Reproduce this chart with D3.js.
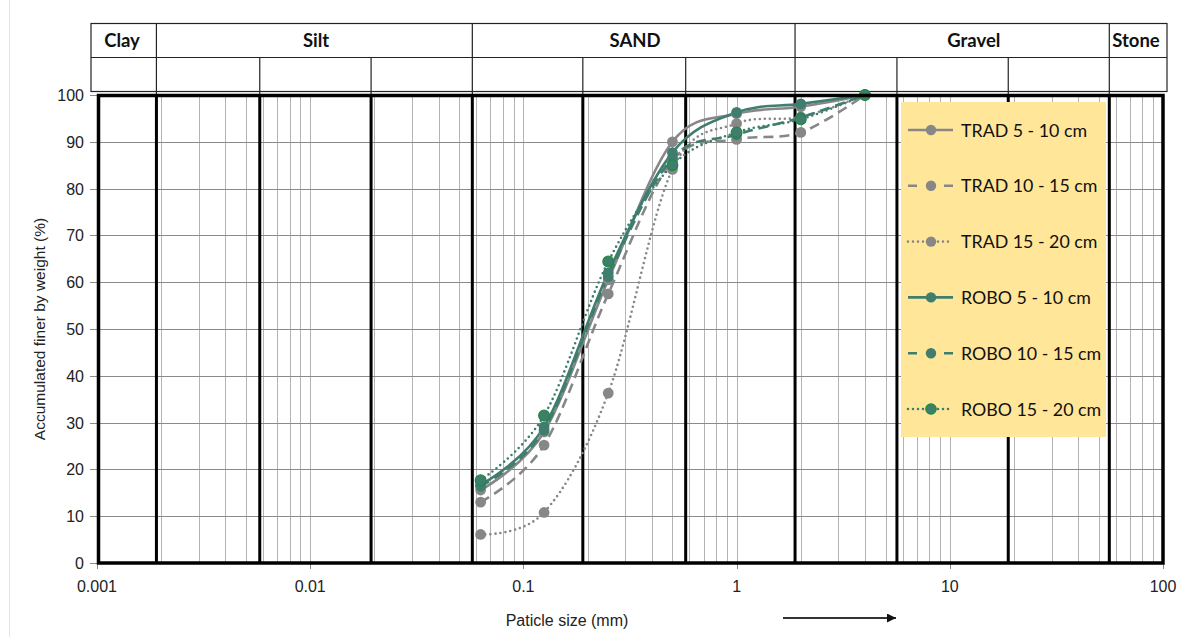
<!DOCTYPE html>
<html><head><meta charset="utf-8">
<script src="https://cdn.jsdelivr.net/npm/d3@7"></script>
<style>body{margin:0;background:#fff}svg{display:block}</style>
</head><body>
<svg id="chart" width="1203" height="637"></svg>
<script>
// ---------- data ----------
const sieveSizes = [0.063, 0.125, 0.25, 0.5, 1, 2, 4];
const seriesNames = ["TRAD 5 - 10 cm","TRAD 10 - 15 cm","TRAD 15 - 20 cm","ROBO 5 - 10 cm","ROBO 10 - 15 cm","ROBO 15 - 20 cm"];
const trad5to10  = [15.6, 28.0, 60.5, 90.0, 96.0, 97.5, 100];
const trad10to15 = [13.0, 25.2, 57.5, 86.0, 90.5, 92.0, 100];
const trad15to20 = [6.1, 10.8, 36.3, 84.1, 93.9, 95.3, 100];
const robo5to10  = [16.7, 29.1, 62.0, 87.7, 96.3, 98.1, 100];
const robo10to15 = [16.4, 28.4, 61.2, 86.5, 91.5, 95.2, 100];
const robo15to20 = [17.7, 31.5, 64.4, 85.0, 92.0, 94.8, 100];
const yTickValues = [0,10,20,30,40,50,60,70,80,90,100];
const xTickValues = [0.001, 0.01, 0.1, 1, 10, 100];
const xTickLabels = ["0.001","0.01","0.1","1","10","100"];
const classNames = ["Clay","Silt","SAND","Gravel","Stone"];
const classLabelAt = [0.00131, 0.01065, 0.334, 12.97, 74.7];
const classBounds = [0.0019, 0.0576, 1.88, 56];
const subBounds = [0.0058, 0.0193, 0.19, 0.577, 5.65, 18.8];

// ---------- styles ----------
const GRAY = "#878787", TEAL = "#3f7e6e";
const styles = [
  {c: GRAY, dash: null}, {c: GRAY, dash: "10,6"}, {c: GRAY, dash: "0,5"},
  {c: TEAL, dash: null}, {c: TEAL, dash: "10,6"}, {c: TEAL, dash: "0,5", outline: "#1f8a3c"}
];
const allSeries = [trad5to10, trad10to15, trad15to20, robo5to10, robo10to15, robo15to20];

const svg = d3.select("#chart");
const x = d3.scaleLog().domain([0.001, 100]).range([97, 1163]);
const y = d3.scaleLinear().domain([0, 100]).range([563, 95]);
const X0 = x.range()[0], X1 = x.range()[1], Y0 = y.range()[0], Y1 = y.range()[1];

// faint chart-area border
svg.append("line").attr("x1",9.5).attr("x2",9.5).attr("y1",0).attr("y2",637).attr("stroke","#e4e4e4");

// minor vertical grid
svg.append("g").selectAll("line").data(x.ticks()).join("line")
  .attr("x1", d=>Math.round(x(d))+0.5).attr("x2", d=>Math.round(x(d))+0.5)
  .attr("y1", Y1).attr("y2", Y0).attr("stroke", "#b4b4b4").attr("stroke-width", 1);
// horizontal grid + ticks
svg.append("g").selectAll("line").data(yTickValues).join("line")
  .attr("x1", X0-7).attr("x2", X1).attr("y1", d=>Math.round(y(d))+0.5).attr("y2", d=>Math.round(y(d))+0.5)
  .attr("stroke", "#8a8a8a").attr("stroke-width", 1);
// x ticks
svg.append("g").selectAll("line").data(xTickValues).join("line")
  .attr("x1", d=>Math.round(x(d))+0.5).attr("x2", d=>Math.round(x(d))+0.5)
  .attr("y1", Y0).attr("y2", Y0+6).attr("stroke", "#8a8a8a");

// thick boundary lines in the plot
svg.append("g").selectAll("line").data(classBounds.concat(subBounds)).join("line")
  .attr("x1", d=>x(d)).attr("x2", d=>x(d)).attr("y1", Y1).attr("y2", Y0)
  .attr("stroke", "#000").attr("stroke-width", 3);

// header table
const TL = 91, TR = 1167, TT = 23.5, TM = 57.5, TB = 91.5;
const hdr = svg.append("g").attr("stroke", "#222").attr("stroke-width", 1.2).attr("fill","none");
hdr.append("rect").attr("x", TL).attr("y", TT).attr("width", TR-TL).attr("height", TB-TT);
hdr.append("line").attr("x1", TL).attr("x2", TR).attr("y1", TM).attr("y2", TM);
hdr.selectAll("line.cb").data(classBounds).join("line").attr("class","cb")
  .attr("x1", d=>x(d)).attr("x2", d=>x(d)).attr("y1", TT).attr("y2", Y1);
hdr.selectAll("line.sb").data(subBounds).join("line").attr("class","sb")
  .attr("x1", d=>x(d)).attr("x2", d=>x(d)).attr("y1", TM).attr("y2", Y1);
svg.append("g").selectAll("text").data(classNames).join("text")
  .attr("x", (d,i)=>x(classLabelAt[i])).attr("y", 47)
  .attr("text-anchor","middle").attr("font-family","Lato, 'Open Sans', sans-serif")
  .attr("font-weight","bold").attr("font-size", 18.5).attr("fill","#111").text(d=>d);

// series lines
const line = d3.line().x((d,i)=>x(sieveSizes[i])).y(d=>y(d)).curve(d3.curveCardinal.tension(0));
allSeries.forEach((vals, k) => {
  const s = styles[k];
  svg.append("path").attr("d", line(vals)).attr("fill","none")
    .attr("stroke", s.c).attr("stroke-width", 2.6)
    .attr("stroke-dasharray", s.dash).attr("stroke-linecap", s.dash==="0,5" ? "round" : "butt");
});
allSeries.forEach((vals, k) => {
  const s = styles[k];
  svg.append("g").selectAll("circle").data(vals).join("circle")
    .attr("cx", (d,i)=>x(sieveSizes[i])).attr("cy", d=>y(d)).attr("r", 5.4)
    .attr("fill", s.c).attr("stroke", s.outline || "none").attr("stroke-width", 1.2);
});

// plot frame
svg.append("rect").attr("x", X0+1.5).attr("y", Y1+0.5).attr("width", X1-X0-1.5).attr("height", Y0-Y1-0.5)
  .attr("fill","none").attr("stroke","#000").attr("stroke-width",3.5);

// legend
const lg = svg.append("g");
lg.append("rect").attr("x", 901).attr("y", 102).attr("width", 205).attr("height", 335).attr("fill", "#ffe699");
seriesNames.forEach((name, k) => {
  const s = styles[k];
  const cy = 130 + k*55.8;
  lg.append("line").attr("x1", 908).attr("x2", 953).attr("y1", cy).attr("y2", cy)
    .attr("stroke", s.c).attr("stroke-width", 2.6)
    .attr("stroke-dasharray", s.dash === "10,6" ? "9,27" : s.dash)
    .attr("stroke-linecap", s.dash==="0,5" ? "round" : "butt");
  lg.append("circle").attr("cx", 931).attr("cy", cy).attr("r", 5.2).attr("fill", s.c)
    .attr("stroke", s.outline || "none").attr("stroke-width", 1.2);
  lg.append("text").attr("x", 961).attr("y", cy+6.5).attr("font-family","Lato, 'Open Sans', sans-serif")
    .attr("font-size", 17.8).attr("fill","#111").text(name);
});

// axis labels
const af = "'Liberation Sans', Arial, sans-serif";
svg.append("g").selectAll("text").data(yTickValues).join("text")
  .attr("x", 84).attr("y", d=>y(d)+6).attr("text-anchor","end")
  .attr("font-family", af).attr("font-size", 16).attr("fill","#222").text(d=>d);
svg.append("g").selectAll("text").data(xTickValues).join("text")
  .attr("x", d=>x(d)).attr("y", 592).attr("text-anchor","middle")
  .attr("font-family", af).attr("font-size", 16).attr("fill","#222").text((d,i)=>xTickLabels[i]);
svg.append("text").attr("transform","translate(45,329) rotate(-90)").attr("text-anchor","middle")
  .attr("font-family", af).attr("font-size", 15.5).attr("fill","#222").text("Accumulated finer by weight (%)");
svg.append("text").attr("x", 567).attr("y", 626).attr("text-anchor","middle")
  .attr("font-family", af).attr("font-size", 16).attr("fill","#222").text("Paticle size (mm)");
// arrow
svg.append("defs").append("marker").attr("id","ah").attr("viewBox","0 0 10 10").attr("refX",10).attr("refY",5)
  .attr("markerWidth",5).attr("markerHeight",5).attr("orient","auto")
  .append("path").attr("d","M0,0L10,5L0,10Z").attr("fill","#111");
svg.append("line").attr("x1", 783).attr("x2", 896).attr("y1", 618).attr("y2", 618)
  .attr("stroke","#333").attr("stroke-width",1.8).attr("marker-end","url(#ah)");
</script>
</body></html>
